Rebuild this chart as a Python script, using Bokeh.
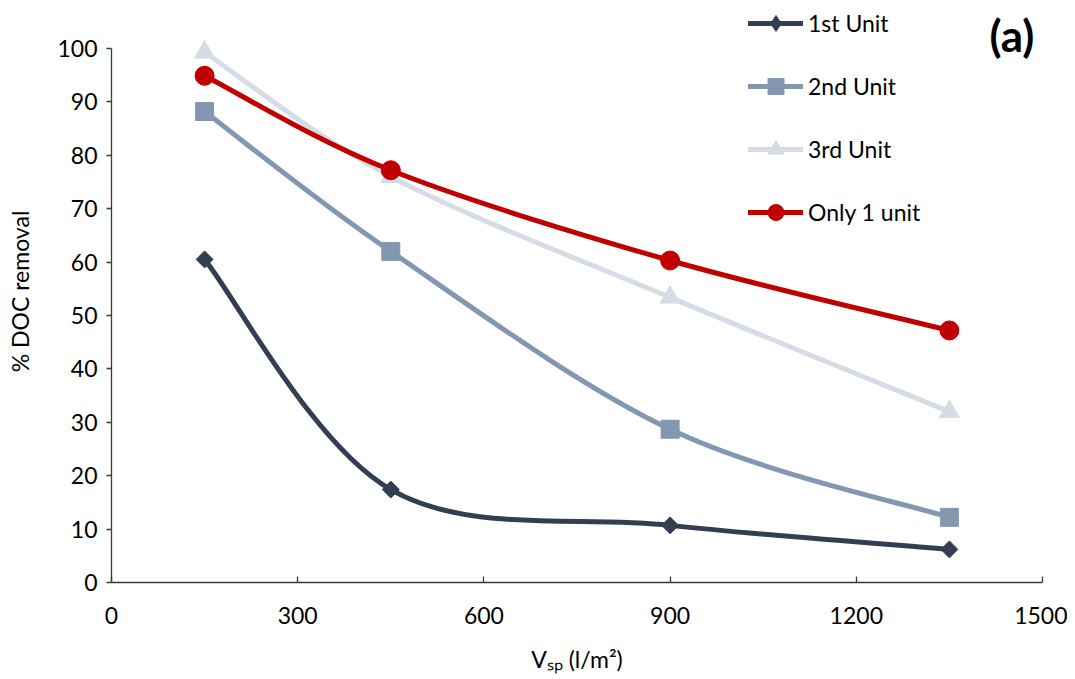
from math import pi
from bokeh.plotting import figure
from bokeh.models import Range1d, FixedTicker, Legend, LegendItem, Label
from bokeh.embed import file_html
from bokeh.resources import INLINE

# ---- data ----
x_vsp = [150, 450, 900, 1350]
unit1 = [60.5, 17.4, 10.7, 6.2]
unit2 = [88.2, 62.0, 28.7, 12.2]
unit3 = [99.3, 76.0, 53.4, 32.0]
only1 = [94.9, 77.2, 60.3, 47.2]
series_names = ["1st Unit", "2nd Unit", "3rd Unit", "Only 1 unit"]
x_ticks = [0, 300, 600, 900, 1200, 1500]
y_ticks = [0, 10, 20, 30, 40, 50, 60, 70, 80, 90, 100]

FONT = "Lato"
FS = "23px"


def smooth_segments(xs, ys, t=1.0 / 6.0):
    """Bezier control points for a smoothed (Catmull-Rom style) line through the data."""
    n = len(xs)
    seg = dict(x0=[], y0=[], x1=[], y1=[], cx0=[], cy0=[], cx1=[], cy1=[])
    for i in range(n - 1):
        xa, ya = xs[i], ys[i]
        xb, yb = xs[i + 1], ys[i + 1]
        xp, yp = (xs[i - 1], ys[i - 1]) if i > 0 else (xa, ya)
        xn, yn = (xs[i + 2], ys[i + 2]) if i + 2 < n else (xb, yb)
        seg["x0"].append(xa); seg["y0"].append(ya)
        seg["x1"].append(xb); seg["y1"].append(yb)
        seg["cx0"].append(xa + (xb - xp) * t); seg["cy0"].append(ya + (yb - yp) * t)
        seg["cx1"].append(xb - (xn - xa) * t); seg["cy1"].append(yb - (yn - ya) * t)
    return seg


# frame extends above the 100 line so the legend and panel tag are not clipped
Y_TOP = 100 * 582 / 534

p = figure(
    frame_width=931, frame_height=582,
    min_border_left=111, min_border_right=25, min_border_top=0, min_border_bottom=90,
    x_range=Range1d(0, 1500), y_range=Range1d(0, Y_TOP),
    output_backend="svg", toolbar_location=None,
)
p.outline_line_color = None
p.xgrid.grid_line_color = None
p.ygrid.grid_line_color = None
p.background_fill_color = "white"
p.border_fill_color = "white"

p.xaxis.ticker = FixedTicker(ticks=x_ticks)
p.yaxis.ticker = FixedTicker(ticks=y_ticks)
p.yaxis.bounds = (0, 100)
for ax in (p.xaxis, p.yaxis):
    ax.axis_line_color = "#3a3a3a"
    ax.axis_line_width = 1.3
    ax.major_tick_line_color = "#3a3a3a"
    ax.major_tick_line_width = 1.3
    ax.minor_tick_line_color = None
    ax.major_label_text_font = FONT
    ax.major_label_text_font_size = FS
    ax.major_label_text_color = "black"
    ax.axis_label_text_font = FONT
    ax.axis_label_text_font_size = FS
    ax.axis_label_text_font_style = "normal"
    ax.axis_label_text_color = "black"

p.xaxis.major_tick_in = 6
p.xaxis.major_tick_out = 0
p.xaxis.major_label_standoff = 24
p.xaxis.axis_label = "Vₛₚ (l/m²)"
p.xaxis.axis_label_standoff = 18

p.yaxis.major_tick_in = 0
p.yaxis.major_tick_out = 5
p.yaxis.major_label_standoff = 9
p.yaxis.axis_label = "% DOC removal"
p.yaxis.axis_label_standoff = 20

colors = ["#333F50", "#8497B0", "#D6DCE5", "#C00000"]
markers = ["square", "square", "triangle", "circle"]
legend_markers = ["diamond", "square", "triangle", "circle"]
angles = [pi / 4, 0, 0, 0]
sizes = [12, 18, 20, 19]
series = [unit1, unit2, unit3, only1]

items = []
for name, ys, c, m, lm, a, s in zip(series_names, series, colors, markers,
                                     legend_markers, angles, sizes):
    seg = smooth_segments(x_vsp, ys)
    br = p.bezier(x0="x0", y0="y0", x1="x1", y1="y1", cx0="cx0", cy0="cy0",
                  cx1="cx1", cy1="cy1", source=seg, line_color=c, line_width=5,
                  line_cap="round")
    sr = p.scatter(x_vsp, ys, marker=m, angle=a, size=s, fill_color=c, line_color=c)
    if lm != m:
        # legend key symbol only (legend keys are drawn unrotated)
        kr = p.scatter(x_vsp, ys, marker=lm, size=s, fill_color=c, line_color=c,
                       visible=False)
        items.append(LegendItem(label=name, renderers=[br, kr]))
    else:
        items.append(LegendItem(label=name, renderers=[br, sr]))

legend = Legend(
    items=items, location=(637, 350), orientation="vertical",
    glyph_width=55, glyph_height=40, label_height=40, spacing=23,
    label_standoff=5, padding=0, margin=0,
    border_line_color=None, background_fill_alpha=0,
    label_text_font=FONT, label_text_font_size=FS, label_text_color="black",
)
p.add_layout(legend, "center")

p.add_layout(Label(x=878, y=548, x_units="screen", y_units="screen", text="(a)",
                   text_font=FONT, text_font_size="44px", text_font_style="bold",
                   text_color="black", text_baseline="middle", text_align="left"))

open("out.html", "w").write(file_html(p, INLINE))
